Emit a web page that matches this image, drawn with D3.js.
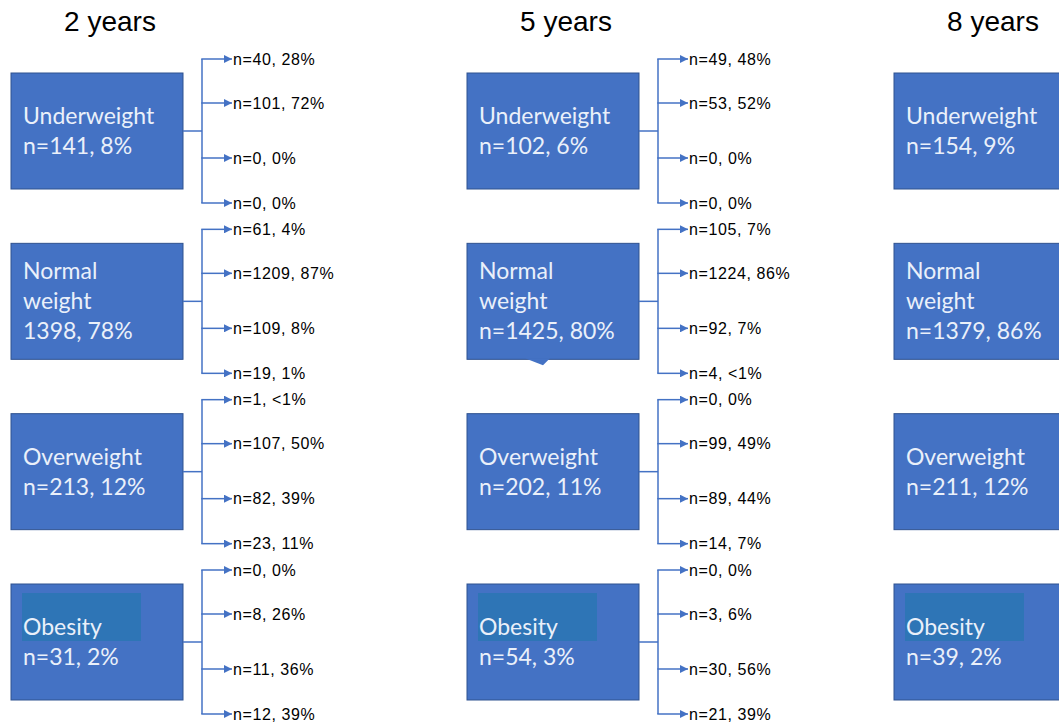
<!DOCTYPE html>
<html>
<head>
<meta charset="utf-8">
<script src="https://cdn.jsdelivr.net/npm/d3@7"></script>
<style>
  body { margin: 0; background: #fff; }
  .title { font-family: "Liberation Sans", Arial, sans-serif; font-size: 28px; fill: #000; }
  .boxText { font-family: Lato, "Open Sans", sans-serif; font-size: 23px; fill: #eaf0fa; }
  .branchText { font-family: "Liberation Sans", Arial, sans-serif; font-size: 16px; letter-spacing: 0.6px; fill: #000; }
</style>
</head>
<body>
<div id="chart"></div>
<script>
// columns and rows
var years = ["2 years", "5 years", "8 years"];
var categories = [["Underweight"], ["Normal", "weight"], ["Overweight"], ["Obesity"]];

// box labels per time point
var boxLabels2y = ["n=141, 8%", "1398, 78%", "n=213, 12%", "n=31, 2%"];
var boxLabels5y = ["n=102, 6%", "n=1425, 80%", "n=202, 11%", "n=54, 3%"];
var boxLabels8y = ["n=154, 9%", "n=1379, 86%", "n=211, 12%", "n=39, 2%"];

// transitions 2 -> 5 years (to underweight, normal, overweight, obesity)
var trans2to5n = [[40, 101, 0, 0], [61, 1209, 109, 19], [1, 107, 82, 23], [0, 8, 11, 12]];
var trans2to5pct = [["28%", "72%", "0%", "0%"], ["4%", "87%", "8%", "1%"], ["<1%", "50%", "39%", "11%"], ["0%", "26%", "36%", "39%"]];

// transitions 5 -> 8 years
var trans5to8n = [[49, 53, 0, 0], [105, 1224, 92, 4], [0, 99, 89, 14], [0, 3, 30, 21]];
var trans5to8pct = [["48%", "52%", "0%", "0%"], ["7%", "86%", "7%", "<1%"], ["0%", "49%", "44%", "7%"], ["0%", "6%", "56%", "39%"]];

var boxLabels = [boxLabels2y, boxLabels5y, boxLabels8y];
var transN = [trans2to5n, trans5to8n];
var transPct = [trans2to5pct, trans5to8pct];

var svgWidth = 1059, svgHeight = 723;
var boxW = 172, boxH = 116, lineH = 30;
var boxFill = "#4472c4", boxStroke = "#2f528f", lineColor = "#4472c4";

var svg = d3.select("#chart")
  .append("svg")
  .attr("width", svgWidth)
  .attr("height", svgHeight);

// marker for the arrows
svg.append("defs").append("marker")
  .attr("id", "arrow")
  .attr("viewBox", "0 0 10 10")
  .attr("refX", 10)
  .attr("refY", 5)
  .attr("markerUnits", "userSpaceOnUse")
  .attr("markerWidth", 9)
  .attr("markerHeight", 8)
  .attr("orient", "auto")
  .append("path")
  .attr("d", "M0,0L10,5L0,10Z")
  .attr("fill", lineColor);

// scales
var xScale = d3.scaleOrdinal().domain(years).range([11, 467, 894]);
var yScale = d3.scaleLinear().domain([0, categories.length - 1]).range([73, 584]);
var branchScale = d3.scaleOrdinal().domain([0, 1, 2, 3]).range([-72, -28, 27, 72]);

// titles
svg.selectAll(".title")
  .data(years)
  .enter()
  .append("text")
  .attr("class", "title")
  .attr("x", d => xScale(d) + boxW / 2 + 13)
  .attr("y", 31)
  .attr("text-anchor", "middle")
  .text(d => d);

years.forEach(function(year, yi) {
  var x0 = xScale(year);
  var col = svg.append("g");

  categories.forEach(function(cat, ci) {
    var top = yScale(ci);
    var cy = top + boxH / 2;

    col.append("rect")
      .attr("x", x0)
      .attr("y", top)
      .attr("width", boxW)
      .attr("height", boxH)
      .attr("fill", boxFill)
      .attr("stroke", boxStroke)
      .attr("stroke-width", 1);

    // little callout tab on the 5 years normal weight box
    if (yi === 1 && ci === 1) {
      col.append("path")
        .attr("d", `M${x0 + 58},${top + boxH - 1}L${x0 + 83},${top + boxH - 1}L${x0 + 76},${top + boxH + 6}Z`)
        .attr("fill", boxFill);
    }

    var lines = cat.concat([boxLabels[yi][ci]]);
    var firstBase = cy - (lines.length - 1) / 2 * lineH + 8;

    // highlighted background behind "Obesity"
    if (ci === 3) {
      col.append("rect")
        .attr("x", x0 + 11)
        .attr("y", cy - 49)
        .attr("width", 119)
        .attr("height", 48)
        .attr("fill", "#2e75b6");
    }

    col.selectAll(null)
      .data(lines)
      .enter()
      .append("text")
      .attr("class", "boxText")
      .attr("x", x0 + 12)
      .attr("y", (d, i) => firstBase + i * lineH)
      .text(d => d);

    // branches to the next time point
    if (yi < transN.length) {
      var bx = x0 + boxW + 19;
      var ax = bx + 30;
      col.append("line")
        .attr("x1", x0 + boxW).attr("x2", bx)
        .attr("y1", cy).attr("y2", cy)
        .attr("stroke", lineColor).attr("stroke-width", 1.5);
      col.append("line")
        .attr("x1", bx).attr("x2", bx)
        .attr("y1", cy + branchScale(0)).attr("y2", cy + branchScale(3))
        .attr("stroke", lineColor).attr("stroke-width", 1.5);

      var branches = transN[yi][ci].map((n, k) => ({ k: k, label: `n=${n}, ${transPct[yi][ci][k]}` }));

      col.selectAll(null)
        .data(branches)
        .enter()
        .append("line")
        .attr("x1", bx - 0.75).attr("x2", ax)
        .attr("y1", d => cy + branchScale(d.k))
        .attr("y2", d => cy + branchScale(d.k))
        .attr("stroke", lineColor).attr("stroke-width", 1.5)
        .attr("marker-end", "url(#arrow)");

      col.selectAll(null)
        .data(branches)
        .enter()
        .append("text")
        .attr("class", "branchText")
        .attr("x", ax + 1)
        .attr("y", d => cy + branchScale(d.k) + 5.5)
        .text(d => d.label);
    }
  });
});
</script>
</body>
</html>
